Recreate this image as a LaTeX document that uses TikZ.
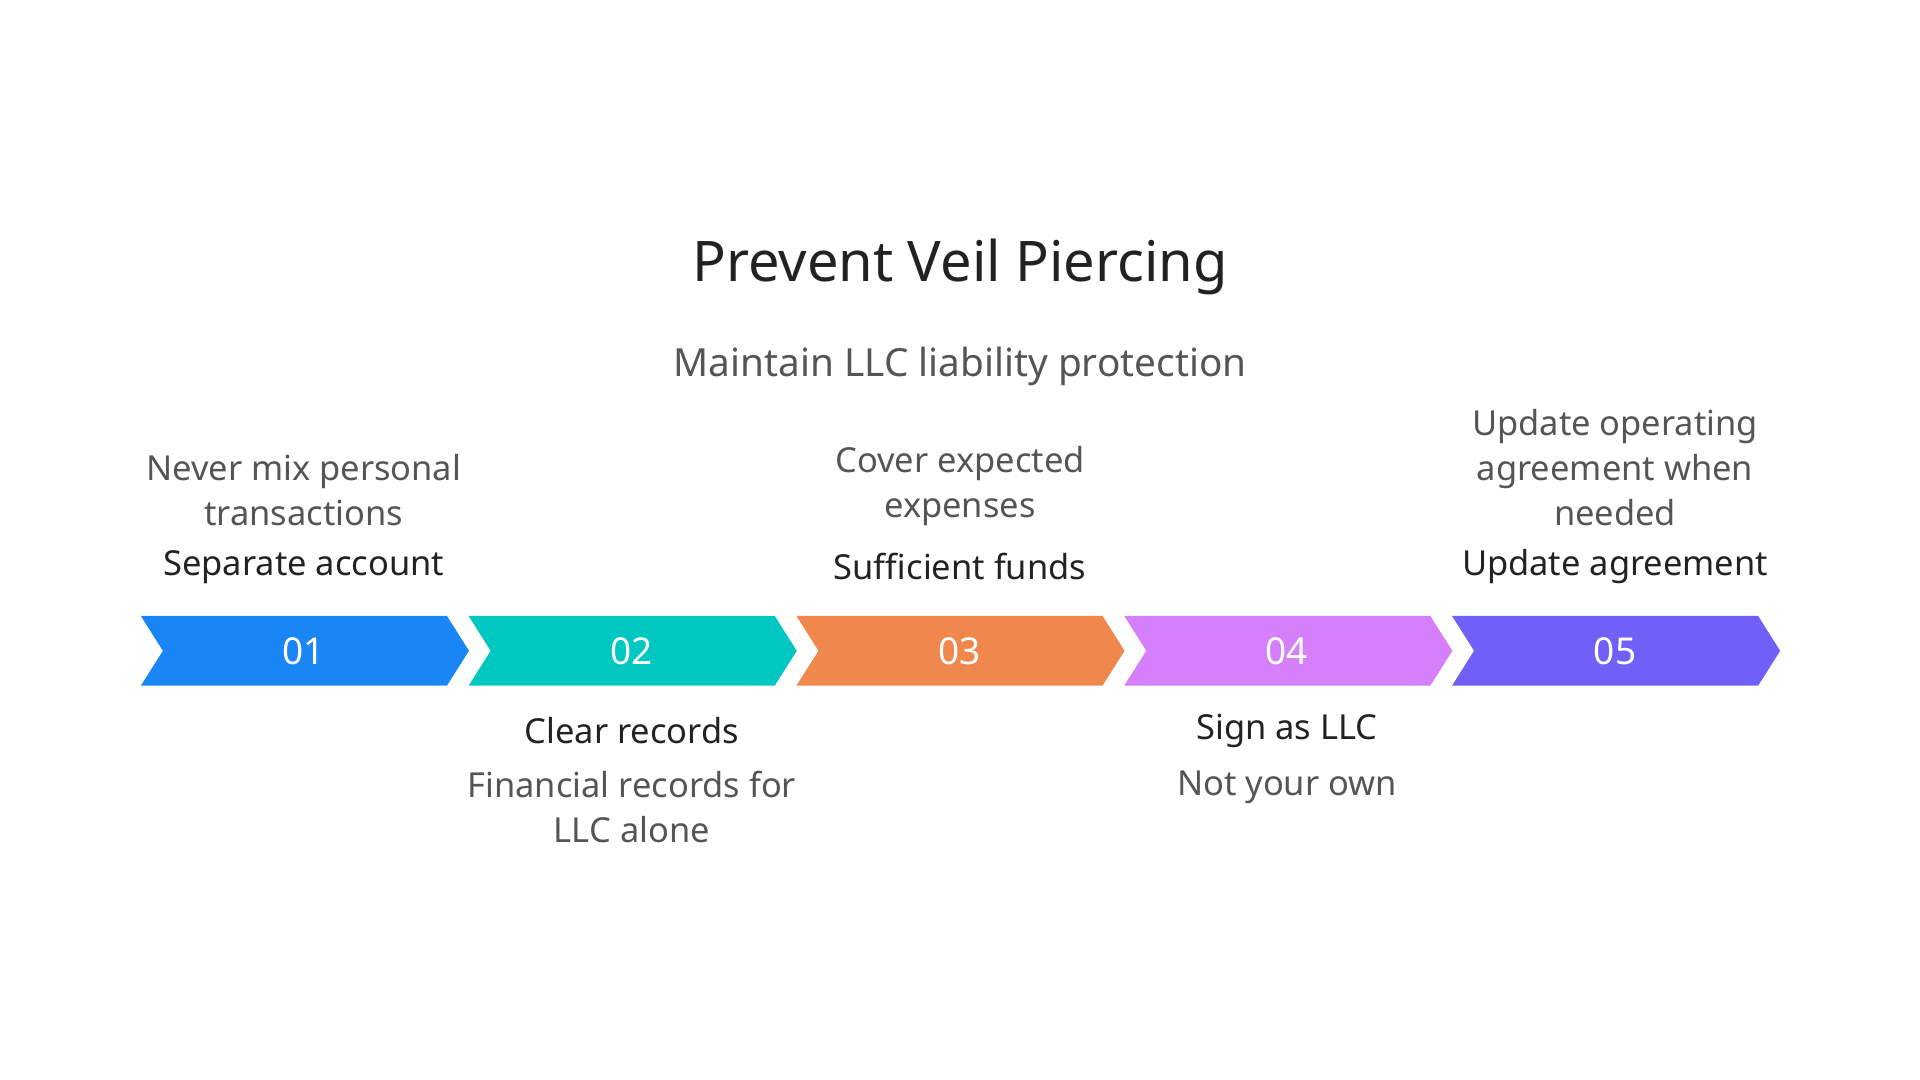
\documentclass[tikz,border=0pt]{standalone}
\usepackage{fontspec}
\setmainfont{Noto Sans}
\definecolor{c1}{HTML}{1A86F5}
\definecolor{c2}{HTML}{00C8C0}
\definecolor{c3}{HTML}{F0884E}
\definecolor{c4}{HTML}{D580FA}
\definecolor{c5}{HTML}{7060F8}
\definecolor{tx}{HTML}{555555}
\definecolor{dk}{HTML}{222222}
\begin{document}
\begin{tikzpicture}[x=0.01cm,y=-0.01cm,
  desc/.style={font=\fontsize{8}{10.5}\selectfont,text=tx,align=center},
  ttl/.style={font=\fontsize{8}{10.5}\selectfont\bfseries,text=dk,align=center},
  num/.style={font=\fontsize{8.6}{10}\selectfont\bfseries,text=white}]
\useasboundingbox (0,0) rectangle (1568,882);
\node[font=\fontsize{13}{15}\selectfont,text=dk] (title) at (784,218) {Prevent Veil Piercing};
\node[font=\fontsize{9}{11}\selectfont,text=tx] (sub) at (784,299) {Maintain LLC liability protection};
\foreach \i/\c in {0/c1,1/c2,2/c3,3/c4,4/c5}{
  \pgfmathsetmacro{\x}{115+267.7*\i}
  \fill[\c] (\x,503) -- (\x+250,503) -- (\x+268,531.5) -- (\x+250,560) -- (\x,560) -- (\x+18,531.5) -- cycle;
}
\node[num] (n1) at (248,532) {01};
\node[num] (n2) at (516,532) {02};
\node[num] (n3) at (784,532) {03};
\node[num] (n4) at (1051,532) {04};
\node[num] (n5) at (1319,532) {05};
\node[ttl] (t1) at (248,463) {Separate account};
\node[desc,anchor=south] (d1) at (248,442) {Never mix personal\\transactions};
\node[ttl] (t3) at (784,463) {Sufficient funds};
\node[desc,anchor=south] (d3) at (784,442) {Cover expected\\expenses};
\node[ttl] (t5) at (1319,463) {Update agreement};
\node[desc,anchor=south] (d5) at (1319,442) {Update operating\\agreement when\\needed};
\node[ttl] (t2) at (516,597) {Clear records};
\node[desc,anchor=north] (d2) at (516,617) {Financial records for\\LLC alone};
\node[ttl] (t4) at (1051,597) {Sign as LLC};
\node[desc,anchor=north] (d4) at (1051,617) {Not your own};
\end{tikzpicture}
\end{document}
